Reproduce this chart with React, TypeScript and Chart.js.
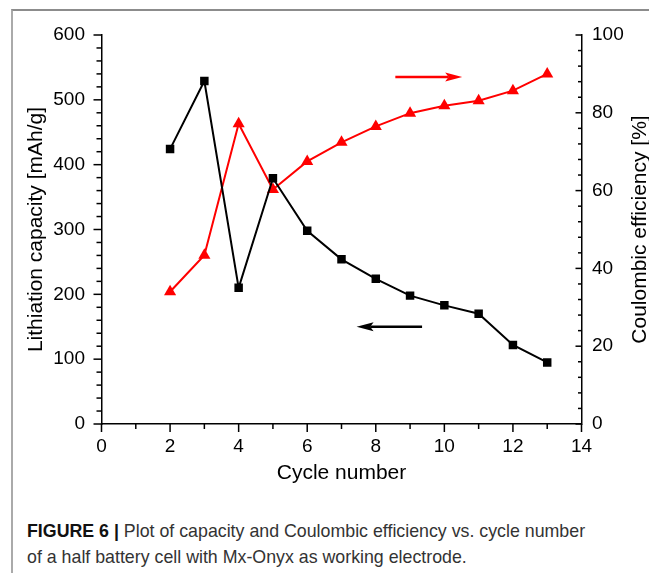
import React, { useEffect, useRef } from "react";
import { Chart, registerables } from "chart.js";

Chart.register(...registerables);

// ---- data ----
const cycles = [2, 3, 4, 5, 6, 7, 8, 9, 10, 11, 12, 13];
const capacity = [424, 529, 210, 379, 298, 254, 224, 198, 183, 170, 122, 95];
const efficiency = [34.0, 43.4, 77.2, 60.3, 67.5, 72.4, 76.5, 79.9, 81.8, 83.1, 85.7, 90.0];
const xTickValues = [0, 2, 4, 6, 8, 10, 12, 14];
const capTickValues = [0, 100, 200, 300, 400, 500, 600];
const effTickValues = [0, 20, 40, 60, 80, 100];

// arrows (data coordinates): which axis, tail x, head x, y
const redArrow = { axis: "y1", tail: 8.57, head: 10.52, y: 89.2 };
const blackArrow = { axis: "y", tail: 9.35, head: 7.44, y: 150 };

const FONT = "'Liberation Sans', Arial, Helvetica, sans-serif";

function drawArrow(ctx: CanvasRenderingContext2D, x1: number, x2: number, y: number, color: string) {
  const dir = Math.sign(x2 - x1);
  const headLen = 17;
  const headHalf = 4.6;
  ctx.save();
  ctx.strokeStyle = color;
  ctx.fillStyle = color;
  ctx.lineWidth = 2.4;
  ctx.beginPath();
  ctx.moveTo(x1, y);
  ctx.lineTo(x2 - dir * headLen * 0.8, y);
  ctx.stroke();
  ctx.beginPath();
  ctx.moveTo(x2, y);
  ctx.lineTo(x2 - dir * headLen, y - headHalf);
  ctx.lineTo(x2 - dir * headLen * 0.8, y);
  ctx.lineTo(x2 - dir * headLen, y + headHalf);
  ctx.closePath();
  ctx.fill();
  ctx.restore();
}

const decorPlugin = {
  id: "decor",
  afterDraw(chart: any) {
    const ctx: CanvasRenderingContext2D = chart.ctx;
    const { left, right, top, bottom } = chart.chartArea;
    const xs = chart.scales.x;
    const yl = chart.scales.y;
    const yr = chart.scales.y1;
    ctx.save();
    ctx.strokeStyle = "#000";
    ctx.lineWidth = 1.5;
    const line = (a: number, b: number, c: number, d: number) => {
      ctx.beginPath();
      ctx.moveTo(a, b);
      ctx.lineTo(c, d);
      ctx.stroke();
    };
    // x ticks (outward, downward)
    for (let v = 0; v <= 14; v += 1) {
      const px = xs.getPixelForValue(v);
      line(px, bottom, px, bottom + (v % 2 === 0 ? 8 : 5));
    }
    // left ticks (outward)
    for (let v = 0; v <= 600; v += 20) {
      const py = yl.getPixelForValue(v);
      line(left, py, left - (v % 100 === 0 ? 8 : 5), py);
    }
    // right ticks (inward)
    for (let v = 0; v <= 100; v += 4) {
      const py = yr.getPixelForValue(v);
      line(right, py, right - (v % 20 === 0 ? 6 : 3.5), py);
    }
    ctx.restore();

    // right axis title (reads bottom-to-top)
    ctx.save();
    ctx.fillStyle = "#000";
    ctx.font = `21px ${FONT}`;
    ctx.textAlign = "center";
    ctx.textBaseline = "middle";
    ctx.translate(640, (top + bottom) / 2);
    ctx.rotate(-Math.PI / 2);
    ctx.fillText("Coulombic efficiency [%]", 0, 0);
    ctx.restore();

    // arrows
    const rs = chart.scales[redArrow.axis];
    drawArrow(ctx, xs.getPixelForValue(redArrow.tail), xs.getPixelForValue(redArrow.head), rs.getPixelForValue(redArrow.y), "#ff0000");
    const bs = chart.scales[blackArrow.axis];
    drawArrow(ctx, xs.getPixelForValue(blackArrow.tail), xs.getPixelForValue(blackArrow.head), bs.getPixelForValue(blackArrow.y), "#000000");
  },
};

export default function App() {
  const ref = useRef<HTMLCanvasElement | null>(null);

  useEffect(() => {
    if (!ref.current) return;
    const chart = new Chart(ref.current, {
      type: "line",
      data: {
        datasets: [
          {
            label: "Lithiation capacity",
            data: cycles.map((c, i) => ({ x: c, y: capacity[i] })),
            yAxisID: "y",
            borderColor: "#000",
            backgroundColor: "#000",
            borderWidth: 2,
            pointStyle: "rect",
            pointRadius: 6,
            pointBorderWidth: 0,
            pointBackgroundColor: "#000",
          },
          {
            label: "Coulombic efficiency",
            data: cycles.map((c, i) => ({ x: c, y: efficiency[i] })),
            yAxisID: "y1",
            borderColor: "#ff0000",
            backgroundColor: "#ff0000",
            borderWidth: 2,
            pointStyle: "triangle",
            pointRadius: 7,
            pointBorderWidth: 0,
            pointBackgroundColor: "#ff0000",
          },
        ],
      },
      options: {
        responsive: false,
        animation: false,
        devicePixelRatio: 1,
        layout: { padding: { top: 35, left: 0, right: 0, bottom: 0 } },
        plugins: { legend: { display: false }, tooltip: { enabled: false } },
        scales: {
          x: {
            type: "linear",
            position: "bottom",
            min: 0,
            max: 14,
            afterFit: (s: any) => {
              s.height = 76;
            },
            afterBuildTicks: (s: any) => {
              s.ticks = xTickValues.map((v) => ({ value: v }));
            },
            ticks: { color: "#000", font: { size: 19, family: FONT }, padding: 11 },
            grid: { display: false, drawTicks: false },
            border: { display: true, color: "#000", width: 1.5 },
            title: {
              display: true,
              text: "Cycle number",
              color: "#000",
              font: { size: 21, family: FONT },
              padding: { top: 0, bottom: 14 },
            },
          },
          y: {
            type: "linear",
            position: "left",
            min: 0,
            max: 600,
            afterFit: (s: any) => {
              s.width = 101.5;
            },
            afterBuildTicks: (s: any) => {
              s.ticks = capTickValues.map((v) => ({ value: v }));
            },
            ticks: { color: "#000", font: { size: 19, family: FONT }, padding: 16.5 },
            grid: { display: false, drawTicks: false },
            border: { display: true, color: "#000", width: 1.5 },
            title: {
              display: true,
              text: "Lithiation capacity [mAh/g]",
              color: "#000",
              font: { size: 21, family: FONT },
              padding: { top: 23.5, bottom: 0 },
            },
          },
          y1: {
            type: "linear",
            position: "right",
            min: 0,
            max: 100,
            afterFit: (s: any) => {
              s.width = 67.5;
            },
            afterBuildTicks: (s: any) => {
              s.ticks = effTickValues.map((v) => ({ value: v }));
            },
            ticks: { color: "#000", font: { size: 19, family: FONT }, padding: 10.5 },
            grid: { display: false, drawTicks: false },
            border: { display: true, color: "#000", width: 1.5 },
            title: { display: false },
          },
        },
      },
      plugins: [decorPlugin],
    } as any);
    return () => chart.destroy();
  }, []);

  return (
    <div style={{ position: "absolute", left: 0, top: 0, width: 649, height: 573, overflow: "hidden", background: "#fff" }}>
      <div
        style={{
          position: "absolute",
          left: 11,
          top: 9,
          width: 700,
          height: 600,
          borderLeft: "2px solid #aaaaaa",
          borderTop: "2px solid #8c8c8c",
        }}
      />
      <canvas ref={ref} width={649} height={500} style={{ position: "absolute", left: 0, top: 0, width: 649, height: 500 }} />
      <div
        style={{
          position: "absolute",
          left: 27,
          top: 518,
          fontFamily: FONT,
          fontSize: 17.8,
          lineHeight: "26px",
          color: "#333",
          whiteSpace: "nowrap",
        }}
      >
        <span style={{ fontWeight: "bold", color: "#111" }}>FIGURE 6 | </span>
        Plot of capacity and Coulombic efficiency vs. cycle number
        <br />
        of a half battery cell with Mx-Onyx as working electrode.
      </div>
    </div>
  );
}
